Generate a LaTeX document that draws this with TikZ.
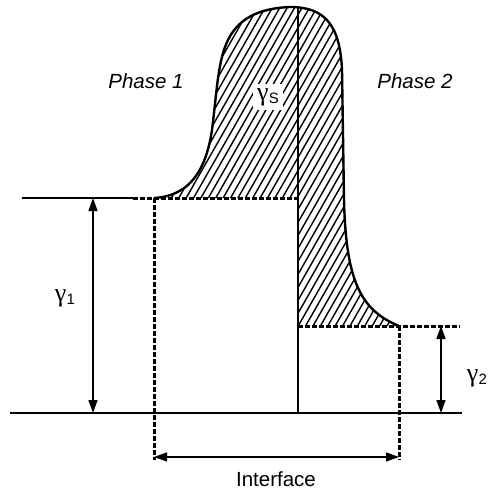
\documentclass[tikz,border=0pt]{standalone}
\usepackage{fontspec}
\setmainfont{Liberation Sans}
\newfontfamily\gamfont{Liberation Serif}
\usetikzlibrary{arrows.meta}
\newcommand\gsym[1]{\raisebox{3pt}{\fontsize{26}{26}\selectfont\gamfont γ}\kern0.3pt{\fontsize{15}{15}\selectfont #1}}
\begin{document}
\begin{tikzpicture}[x=1pt,y=-1pt,
 solidline/.style={line width=1.4pt},
 curveline/.style={line width=2.4pt},
 dashline/.style={line width=3pt, dash pattern=on 4.5pt off 2.5pt},
 hatchline/.style={line width=1.4pt},
 dimarrow/.style={line width=1.4pt, {Triangle[length=13pt,width=9pt]}-{Triangle[length=13pt,width=9pt]}},
 lbl/.style={font=\fontsize{20.5}{24}\selectfont, inner sep=1pt}]
\useasboundingbox (0,0) rectangle (488,491);
\def\surface{(154,198) .. controls (190,196) and (206,170) .. (212,130)
  .. controls (217,90) and (218,60) .. (228,40)
  .. controls (240,15) and (265,8) .. (290,7)
  .. controls (325,7) and (340,25) .. (342,70)
  -- (344,200) .. controls (346,280) and (360,310) .. (399,326)}
% hatching
\begin{scope}
\clip \surface -- (298,326) -- (298,198) -- cycle;
\foreach \i in {0,...,100} {
  \pgfmathsetmacro\a{-250+7.4*\i}
  \draw[hatchline] (\a,340) -- ({\a+0.57*340},0);
}
\end{scope}
% coordinates
\coordinate (bl) at (10,413);
\coordinate (br) at (462,413);
\coordinate (ul) at (22,198);
\coordinate (ue) at (133,198);
\coordinate (um) at (298,198);
\coordinate (vt) at (298,8);
\coordinate (vb) at (298,413);
\coordinate (lr) at (298,326);
\coordinate (rr) at (460,326);
\coordinate (ldt) at (154,198);
\coordinate (ldb) at (154,460);
\coordinate (rdt) at (399,326);
\coordinate (rdb) at (399,460);
\coordinate (ia) at (154,457);
\coordinate (ib) at (399,457);
\coordinate (g1t) at (93,198);
\coordinate (g1b) at (93,413);
\coordinate (g2t) at (441,326);
\coordinate (g2b) at (441,413);
% labels
\node[lbl, fill=white, inner sep=4pt, anchor=base] (gs) at (268,103) {\gsym{S}};
\node[lbl, font=\fontsize{20.5}{24}\selectfont\itshape, anchor=base] (p1) at (146,88) {Phase 1};
\node[lbl, font=\fontsize{20.5}{24}\selectfont\itshape, anchor=base] (p2) at (415,88) {Phase 2};
\node[lbl, anchor=base] (g1) at (65,304) {\gsym{1}};
\node[lbl, anchor=base] (g2) at (477,384) {\gsym{2}};
\node[lbl, anchor=base] (itf) at (276,486) {Interface};
% solid lines
\draw[solidline] (bl) -- (br);
\draw[solidline] (ul) -- (ue);
\draw[solidline] (vt) -- (vb);
% curve
\draw[curveline] \surface;
% dashed lines
\draw[dashline] (ue) -- (um);
\draw[dashline] (ldt) -- (ldb);
\draw[dashline] (lr) -- (rr);
\draw[dashline] (rdt) -- (rdb);
% arrows
\draw[dimarrow] (ia) -- (ib);
\draw[dimarrow] (g1t) -- (g1b);
\draw[dimarrow] (g2t) -- (g2b);
\end{tikzpicture}
\end{document}
